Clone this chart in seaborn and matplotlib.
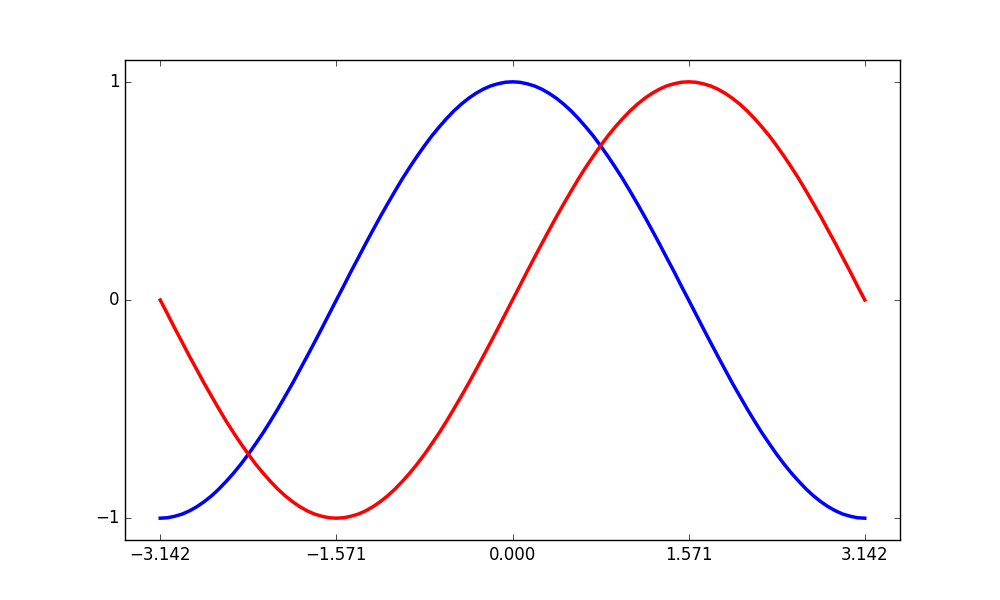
import matplotlib
matplotlib.use("Agg")
import matplotlib.pyplot as plt
import seaborn as sns

plt.style.use("classic")

x_values = [
    -3.142, -3.076, -3.011, -2.945, -2.880, -2.814, -2.749, -2.683, -2.618, -2.553,
    -2.487, -2.422, -2.356, -2.291, -2.225, -2.160, -2.094, -2.029, -1.963, -1.898,
    -1.833, -1.767, -1.702, -1.636, -1.571, -1.505, -1.440, -1.374, -1.309, -1.244,
    -1.178, -1.113, -1.047, -0.982, -0.916, -0.851, -0.785, -0.720, -0.654, -0.589,
    -0.524, -0.458, -0.393, -0.327, -0.262, -0.196, -0.131, -0.065,
    0.000,
    0.065, 0.131, 0.196, 0.262, 0.327, 0.393, 0.458, 0.524, 0.589, 0.654,
    0.720, 0.785, 0.851, 0.916, 0.982, 1.047, 1.113, 1.178, 1.244, 1.309,
    1.374, 1.440, 1.505, 1.571, 1.636, 1.702, 1.767, 1.833, 1.898, 1.963,
    2.029, 2.094, 2.160, 2.225, 2.291, 2.356, 2.422, 2.487, 2.553, 2.618,
    2.683, 2.749, 2.814, 2.880, 2.945, 3.011, 3.076, 3.142,
]

cos_values = [
    -1.000, -0.998, -0.991, -0.981, -0.966, -0.947, -0.924, -0.897, -0.866, -0.831,
    -0.793, -0.752, -0.707, -0.659, -0.609, -0.556, -0.500, -0.442, -0.383, -0.321,
    -0.259, -0.195, -0.131, -0.065, 0.000,
    0.065, 0.131, 0.195, 0.259, 0.321, 0.383, 0.442, 0.500, 0.556, 0.609,
    0.659, 0.707, 0.752, 0.793, 0.831, 0.866, 0.897, 0.924, 0.947, 0.966,
    0.981, 0.991, 0.998, 1.000,
    0.998, 0.991, 0.981, 0.966, 0.947, 0.924, 0.897, 0.866, 0.831, 0.793,
    0.752, 0.707, 0.659, 0.609, 0.556, 0.500, 0.442, 0.383, 0.321, 0.259,
    0.195, 0.131, 0.065, 0.000,
    -0.065, -0.131, -0.195, -0.259, -0.321, -0.383, -0.442, -0.500, -0.556, -0.609,
    -0.659, -0.707, -0.752, -0.793, -0.831, -0.866, -0.897, -0.924, -0.947, -0.966,
    -0.981, -0.991, -0.998, -1.000,
]

sin_values = [
    0.000, -0.065, -0.131, -0.195, -0.259, -0.321, -0.383, -0.442, -0.500, -0.556,
    -0.609, -0.659, -0.707, -0.752, -0.793, -0.831, -0.866, -0.897, -0.924, -0.947,
    -0.966, -0.981, -0.991, -0.998, -1.000,
    -0.998, -0.991, -0.981, -0.966, -0.947, -0.924, -0.897, -0.866, -0.831, -0.793,
    -0.752, -0.707, -0.659, -0.609, -0.556, -0.500, -0.442, -0.383, -0.321, -0.259,
    -0.195, -0.131, -0.065, 0.000,
    0.065, 0.131, 0.195, 0.259, 0.321, 0.383, 0.442, 0.500, 0.556, 0.609,
    0.659, 0.707, 0.752, 0.793, 0.831, 0.866, 0.897, 0.924, 0.947, 0.966,
    0.981, 0.991, 0.998, 1.000,
    0.998, 0.991, 0.981, 0.966, 0.947, 0.924, 0.897, 0.866, 0.831, 0.793,
    0.752, 0.707, 0.659, 0.609, 0.556, 0.500, 0.442, 0.383, 0.321, 0.259,
    0.195, 0.131, 0.065, 0.000,
]

x_ticks = [-3.142, -1.571, 0.000, 1.571, 3.142]
x_tick_labels = ["\u22123.142", "\u22121.571", "0.000", "1.571", "3.142"]
y_ticks = [-1, 0, 1]
y_tick_labels = ["\u22121", "0", "1"]

fig = plt.figure(figsize=(10, 6), dpi=100, facecolor="white")
ax = fig.add_subplot(111)

sns.lineplot(x=x_values, y=cos_values, color="blue", linewidth=2.5, ax=ax,
             solid_joinstyle="round")
sns.lineplot(x=x_values, y=sin_values, color="red", linewidth=2.5, ax=ax,
             solid_joinstyle="round")

ax.set_xlim(-3.142 * 1.1, 3.142 * 1.1)
ax.set_ylim(-1.1, 1.1)
ax.set_xticks(x_ticks)
ax.set_xticklabels(x_tick_labels)
ax.set_yticks(y_ticks)
ax.set_yticklabels(y_tick_labels)

fig.savefig("out.png", dpi=100, facecolor="white")
